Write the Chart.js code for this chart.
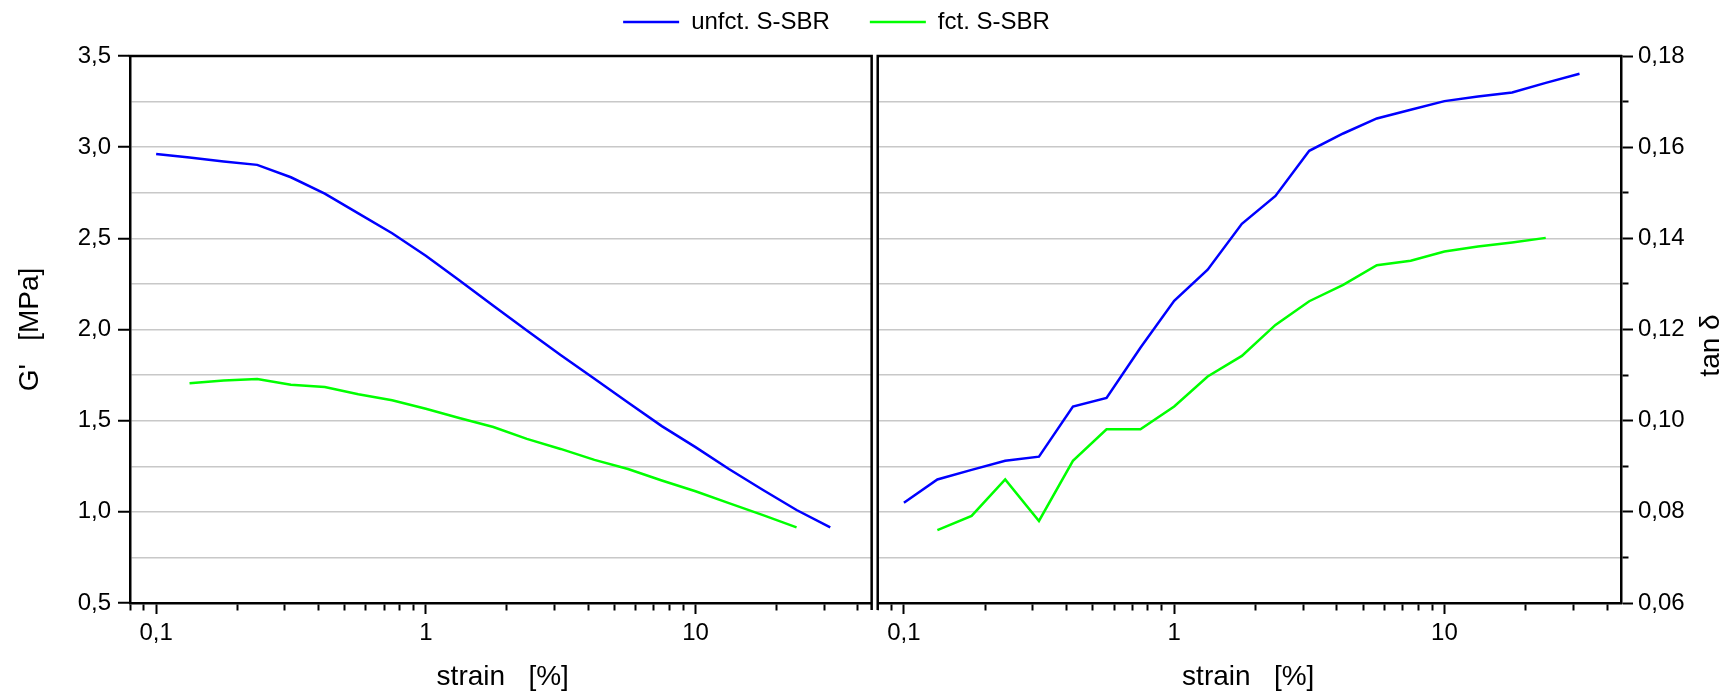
<!DOCTYPE html>
<html>
<head>
<meta charset="utf-8">
<script src="https://cdn.jsdelivr.net/npm/chart.js@4.4.0/dist/chart.umd.min.js"></script>
<style>
    html, body { margin: 0; padding: 0; background: #fff; }
    canvas { display: block; }
</style>
</head>
<body>
<canvas id="myChart" width="1727" height="692"></canvas>
<script>
// strain [%] of the measured points
const strainUnfct = [0.1, 0.133, 0.178, 0.237, 0.316, 0.422, 0.562, 0.75, 1, 1.33, 1.78, 2.37, 3.16, 4.22, 5.62, 7.5, 10, 13.3, 17.8, 23.7, 31.6];
const strainFct = [0.133, 0.178, 0.237, 0.316, 0.422, 0.562, 0.75, 1, 1.33, 1.78, 2.37, 3.16, 4.22, 5.62, 7.5, 10, 13.3, 17.8, 23.7];

// G' [MPa]
const gUnfct = [2.963, 2.943, 2.922, 2.903, 2.835, 2.745, 2.637, 2.528, 2.405, 2.27, 2.13, 1.995, 1.86, 1.73, 1.6, 1.47, 1.355, 1.235, 1.12, 1.01, 0.915];
const gFct = [1.705, 1.72, 1.728, 1.697, 1.685, 1.645, 1.612, 1.565, 1.515, 1.465, 1.4, 1.345, 1.285, 1.235, 1.172, 1.113, 1.048, 0.982, 0.915];

// tan delta
const tanUnfct = [0.082, 0.0871, 0.0892, 0.0912, 0.0921, 0.1031, 0.105, 0.116, 0.1263, 0.1331, 0.1432, 0.1493, 0.1592, 0.163, 0.1663, 0.1682, 0.1701, 0.1711, 0.172, 0.1741, 0.1761];
const tanFct = [0.076, 0.0791, 0.0871, 0.078, 0.0912, 0.0981, 0.0981, 0.1031, 0.1097, 0.1142, 0.121, 0.1262, 0.1298, 0.1341, 0.1351, 0.1371, 0.1382, 0.1391, 0.1401];

const seriesNames = ['unfct. S-SBR', 'fct. S-SBR'];
const seriesColors = ['#0000ff', '#00ff00'];

// axis ticks
const xTickValues = [0.08, 0.09, 0.1, 0.2, 0.3, 0.4, 0.5, 0.6, 0.7, 0.8, 0.9, 1, 2, 3, 4, 5, 6, 7, 8, 9, 10, 20, 30, 40];
const xMajorTicks = [0.1, 1, 10];
const xMajorLabels = ['0,1', '1', '10'];
const xAxisMin = 0.08;
const xAxisMax = 45;

const xTitle = 'strain   [%]';
const yLeftTitle = "G'   [MPa]";
const yRightTitle = 'tan δ';

const FONT = '"Liberation Sans", Arial, Helvetica, sans-serif';
Chart.defaults.font.family = FONT;
Chart.defaults.font.size = 24;
Chart.defaults.color = '#000';

const toPoints = (xs, ys) => xs.map((x, i) => ({ x: x, y: ys[i] }));

const isMajorX = v => xMajorTicks.indexOf(v) !== -1;

// frame lines of the two panels and the right axis title
const panelFrame = {
    id: 'panelFrame',
    afterDraw(chart) {
        const { ctx, chartArea } = chart;
        const edgeL = chart.scales.xL.getPixelForValue(xAxisMax);
        const edgeR = chart.scales.xR.getPixelForValue(xAxisMin);
        const top = chartArea.top;
        const bottom = chartArea.bottom;

        ctx.save();
        ctx.fillStyle = '#fff';
        ctx.fillRect(edgeL, top - 3, edgeR - edgeL, bottom - top + 14);

        ctx.strokeStyle = '#000';
        ctx.lineWidth = 2.5;
        ctx.beginPath();
        ctx.moveTo(chartArea.left - 1.25, top);
        ctx.lineTo(edgeL + 1.25, top);
        ctx.moveTo(edgeR - 1.25, top);
        ctx.lineTo(chartArea.right + 1.25, top);
        ctx.moveTo(edgeL, top - 1.25);
        ctx.lineTo(edgeL, bottom + 7);
        ctx.moveTo(edgeR, top - 1.25);
        ctx.lineTo(edgeR, bottom + 7);
        ctx.stroke();

        ctx.translate(chart.width - 16, (top + bottom) / 2 + 16);
        ctx.rotate(-Math.PI / 2);
        ctx.font = '28px ' + FONT;
        ctx.fillStyle = '#000';
        ctx.textAlign = 'center';
        ctx.textBaseline = 'middle';
        ctx.fillText(yRightTitle, 0, 0);
        ctx.restore();
    }
};

const xScale = (min, max) => ({
    type: 'logarithmic',
    position: 'bottom',
    stack: 'strain',
    stackWeight: 1,
    min: min,
    max: max,
    afterBuildTicks: scale => {
        scale.ticks = xTickValues.map(v => ({ value: v }));
    },
    afterFit: scale => {
        scale.height = 89;
    },
    ticks: {
        autoSkip: false,
        maxRotation: 0,
        minRotation: 0,
        padding: 5,
        font: { size: 24 },
        callback: value => {
            const i = xMajorTicks.indexOf(value);
            return i === -1 ? '' : xMajorLabels[i];
        }
    },
    grid: {
        drawOnChartArea: false,
        tickLength: 11,
        tickWidth: 2,
        tickColor: '#000',
        tickBorderDash: ctx => (ctx.tick && isMajorX(ctx.tick.value)) ? [] : [6, 100]
    },
    border: { display: true, color: '#000', width: 2.5 },
    title: {
        display: true,
        text: xTitle,
        font: { size: 28, lineHeight: 1 },
        padding: { top: 0, bottom: 1 }
    }
});

const ctx = document.getElementById('myChart').getContext('2d');
const myChart = new Chart(ctx, {
    type: 'line',
    data: {
        datasets: [
            {
                label: seriesNames[0],
                data: toPoints(strainUnfct, gUnfct),
                xAxisID: 'xL',
                yAxisID: 'yL',
                borderColor: seriesColors[0],
                backgroundColor: seriesColors[0],
                borderWidth: 2.5,
                pointRadius: 0,
                tension: 0
            },
            {
                label: seriesNames[1],
                data: toPoints(strainFct, gFct),
                xAxisID: 'xL',
                yAxisID: 'yL',
                borderColor: seriesColors[1],
                backgroundColor: seriesColors[1],
                borderWidth: 2.5,
                pointRadius: 0,
                tension: 0
            },
            {
                label: seriesNames[0],
                data: toPoints(strainUnfct, tanUnfct),
                xAxisID: 'xR',
                yAxisID: 'yR',
                borderColor: seriesColors[0],
                backgroundColor: seriesColors[0],
                borderWidth: 2.5,
                pointRadius: 0,
                tension: 0
            },
            {
                label: seriesNames[1],
                data: toPoints(strainFct, tanFct),
                xAxisID: 'xR',
                yAxisID: 'yR',
                borderColor: seriesColors[1],
                backgroundColor: seriesColors[1],
                borderWidth: 2.5,
                pointRadius: 0,
                tension: 0
            }
        ]
    },
    options: {
        responsive: false,
        animation: false,
        events: [],
        // negative left padding shifts the legend centre to the left
        layout: {
            padding: { top: -30, right: 0, bottom: 0, left: -54 }
        },
        plugins: {
            legend: {
                display: true,
                position: 'top',
                labels: {
                    filter: item => item.datasetIndex < 2,
                    boxWidth: 56,
                    boxHeight: 0,
                    padding: 40,
                    color: '#000',
                    font: { size: 24 }
                }
            },
            // empty block between legend and plot, keeps the gap
            title: {
                display: true,
                text: '',
                weight: 500,
                padding: 0,
                font: { size: 12, lineHeight: 1 }
            },
            tooltip: { enabled: false }
        },
        scales: {
            xL: xScale(xAxisMin, 46.5),
            xR: xScale(0.0785, xAxisMax),
            yL: {
                type: 'linear',
                position: 'left',
                min: 0.5,
                max: 3.5,
                afterFit: scale => {
                    scale.width = 184;
                },
                ticks: {
                    stepSize: 0.25,
                    autoSkip: false,
                    padding: 7,
                    font: { size: 24 },
                    callback: value => {
                        const k = Math.round(value * 4);
                        return k % 2 === 0 ? value.toFixed(1).replace('.', ',') : '';
                    }
                },
                grid: {
                    color: ctx => {
                        const v = ctx.tick ? ctx.tick.value : 0;
                        return (Math.abs(v - 0.5) < 1e-6 || Math.abs(v - 3.5) < 1e-6) ? 'rgba(0,0,0,0)' : '#c8c8c8';
                    },
                    lineWidth: 1.5,
                    tickLength: 12,
                    tickWidth: 2,
                    tickColor: ctx => (ctx.tick && Math.round(ctx.tick.value * 4) % 2 === 0) ? '#000' : 'rgba(0,0,0,0)'
                },
                border: { display: true, color: '#000', width: 2.5 },
                title: {
                    display: true,
                    text: yLeftTitle,
                    font: { size: 28, lineHeight: 1 },
                    padding: { top: 70.5, bottom: 0 }
                }
            },
            yR: {
                type: 'linear',
                position: 'right',
                min: 0.06,
                max: 0.18,
                afterFit: scale => {
                    scale.width = 106;
                },
                ticks: {
                    stepSize: 0.01,
                    autoSkip: false,
                    padding: 5,
                    font: { size: 24 },
                    callback: value => {
                        const k = Math.round(value * 100);
                        return k % 2 === 0 ? (k / 100).toFixed(2).replace('.', ',') : '';
                    }
                },
                grid: {
                    drawOnChartArea: false,
                    tickLength: 12,
                    tickWidth: 2,
                    tickColor: '#000',
                    tickBorderDash: ctx => (ctx.tick && Math.round(ctx.tick.value * 100) % 2 === 0) ? [] : [6, 100]
                },
                border: { display: true, color: '#000', width: 2.5 }
            }
        }
    },
    plugins: [panelFrame]
});
</script>
</body>
</html>
